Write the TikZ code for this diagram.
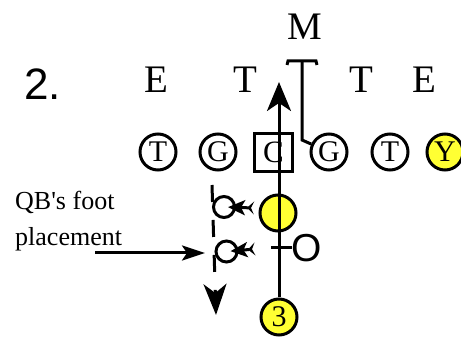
\documentclass[tikz,border=0pt]{standalone}
\usepackage{fontspec}
\setmainfont{Liberation Serif}
\newfontfamily\sansf{Liberation Sans}
\usetikzlibrary{arrows.meta}
\definecolor{pyellow}{RGB}{255,255,51}
\tikzset{
  player/.style={circle,draw,line width=3pt,minimum size=36pt,inner sep=0pt,font=\fontsize{30}{30}\selectfont},
  yplayer/.style={player,fill=pyellow},
  center/.style={rectangle,draw,line width=3pt,minimum size=38pt,inner sep=0pt,font=\fontsize{31}{31}\selectfont},
  foot/.style={circle,draw,line width=3pt,minimum size=21pt,inner sep=0pt},
  defl/.style={font=\fontsize{39}{39}\selectfont,anchor=base,inner sep=0pt},
  lbl/.style={font=\fontsize{26}{26}\selectfont,anchor=base west,inner sep=0pt},
  thick line/.style={line width=3pt},
  footarrow/.style={thick line,shorten >=4pt,{Stealth[length=7pt,width=13pt,inset=3pt,reversed]}-{Stealth[length=17pt,width=15pt,inset=4pt]}},
}
\begin{document}
\begin{tikzpicture}[x=1pt,y=-1pt]
\useasboundingbox (0,0) rectangle (461,339);
% number
\node[font=\sansf\fontsize{44}{44}\selectfont,anchor=base west,inner sep=0pt] (num) at (24,100) {2.};
% defenders
\node[defl] (M) at (305,40) {M};
\node[defl] (E1) at (156,93) {E};
\node[defl] (T1) at (245,93) {T};
\node[defl] (T2) at (361,93) {T};
\node[defl] (E2) at (424,93) {E};
% offensive line
\node[player] (tL) at (158,152) {T};
\node[player] (gL) at (218,152) {G};
\node[center] (c) at (273.5,152.5) {C};
\node[player] (gR) at (329,152) {G};
\node[player] (tR) at (390,152) {T};
\node[yplayer] (y) at (445,152) {Y};
% backfield
\node[yplayer] (qb) at (278,213) {};
\node[yplayer] (three) at (279,317) {3};
\node[font=\sansf\fontsize{39}{39}\selectfont,inner sep=0pt] (o) at (306.5,248) {O};
% QB foot circles
\node[foot] (f1) at (224,207) {};
\node[foot] (f2) at (226.5,251.5) {};
% label
\node[lbl] (lab1) at (15,210) {QB\textquotesingle s foot};
\node[lbl] (lab2) at (15,246) {placement};
% coordinates
\coordinate (tip) at (279,82);
\coordinate (ocross) at (279,248);
\coordinate (tbarL) at (287,65);
\coordinate (tbarR) at (317,65);
\coordinate (tbarM) at (302,61);
\coordinate (tbend) at (302,140);
\coordinate (dashtop) at (212,185);
\coordinate (dashtip) at (216,315);
\coordinate (a1s) at (254,208);
\coordinate (a2s) at (255,249);
\coordinate (labs) at (95,253);
\coordinate (labe) at (205,253);
% main route
\draw[thick line,-{Stealth[length=29pt,width=24pt,inset=8pt]}] (three.north) -- (tip);
\draw[thick line] ([xshift=-8pt]ocross) -- ([xshift=13pt]ocross);
% mike block
\draw[thick line] (tbarL) -- (288,61) -- (316,61) -- (tbarR);
\draw[thick line] (tbarM) -- (tbend) -- (gR);
% QB drop (dashed)
\draw[thick line,dash pattern=on 17pt off 18pt,-{Stealth[length=31pt,width=23pt,inset=9pt]}] (dashtop) -- (dashtip);
% foot arrows
\draw[footarrow] (a1s) -- (f1.center);
\draw[footarrow] (a2s) -- (f2.center);
% label arrow
\draw[thick line,-{Stealth[length=23pt,width=15pt,inset=5pt]}] (labs) -- (labe);
\end{tikzpicture}
\end{document}
